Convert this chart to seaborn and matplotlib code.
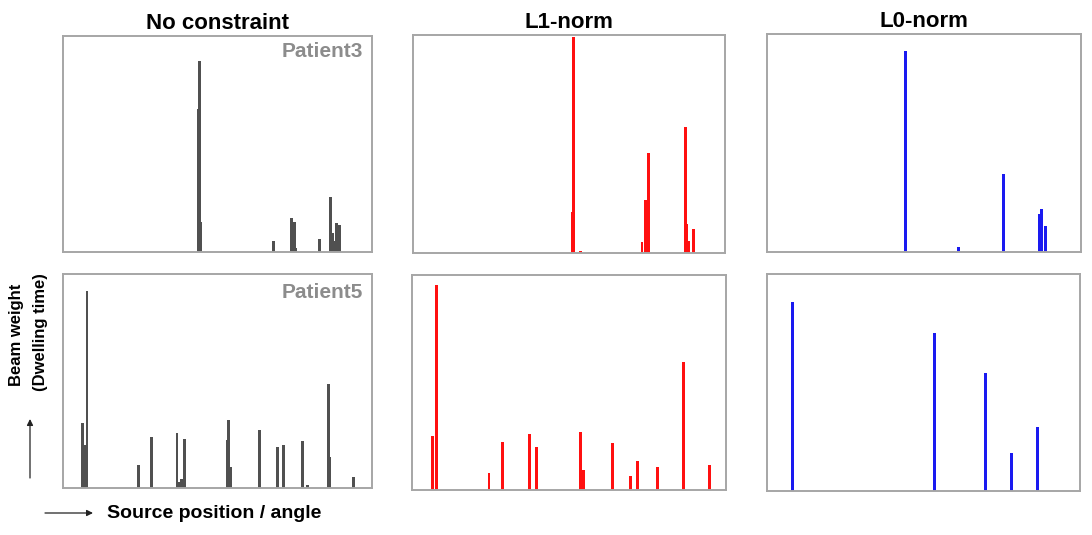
import numpy as np
import pandas as pd
import matplotlib
matplotlib.use("Agg")
import matplotlib.pyplot as plt
import seaborn as sns

# ---------------- data (source position in % of range, beam weight in % of axis) -------------
col_titles = ["No constraint", "L1-norm", "L0-norm"]
row_labels = ["Patient3", "Patient5"]

p3_none_pos = [43.7, 44.1, 44.6, 68.1, 74.0, 75.0, 75.4, 83.1, 86.5, 87.1, 87.7, 88.4, 89.0, 89.6]
p3_none_val = [66.0, 88.6, 14.0, 5.0, 15.6, 13.7, 2.0, 5.9, 25.6, 8.7, 5.0, 13.6, 12.5, 12.5]

p3_l1_pos = [51.2, 51.5, 53.6, 73.4, 74.6, 75.5, 87.3, 87.7, 88.4, 90.0]
p3_l1_val = [19.0, 99.0, 1.0, 5.0, 24.3, 45.7, 58.0, 13.3, 5.6, 10.9]

p3_l0_pos = [44.2, 61.1, 75.2, 86.7, 87.4, 88.6]
p3_l0_val = [92.3, 2.4, 35.8, 17.3, 19.7, 12.1]

p5_none_pos = [6.4, 7.3, 7.8, 24.5, 28.7, 36.9, 37.5, 38.3, 39.4, 53.2, 53.5, 54.3,
               63.5, 69.3, 71.4, 77.6, 79.2, 86.0, 86.3, 93.9]
p5_none_val = [30.2, 20.0, 92.2, 10.7, 24.0, 25.6, 3.0, 4.0, 22.8, 22.4, 31.8, 10.0,
               27.1, 19.3, 20.0, 22.1, 1.4, 48.5, 14.6, 5.0]

p5_l1_pos = [6.5, 7.9, 24.5, 28.8, 37.3, 39.7, 53.7, 54.7, 63.9, 69.6, 71.9, 78.1, 86.4, 94.7]
p5_l1_val = [25.3, 95.3, 7.8, 22.5, 26.0, 19.8, 26.8, 9.3, 21.7, 6.5, 13.6, 10.9, 59.7, 11.6]

p5_l0_pos = [8.2, 53.6, 69.7, 78.2, 86.5]
p5_l0_val = [87.2, 73.0, 54.2, 17.7, 29.6]

series = [
    [(p3_none_pos, p3_none_val), (p3_l1_pos, p3_l1_val), (p3_l0_pos, p3_l0_val)],
    [(p5_none_pos, p5_none_val), (p5_l1_pos, p5_l1_val), (p5_l0_pos, p5_l0_val)],
]
colors = ["#505050", "#ff1010", "#1a1af0"]

# ---------------- figure ----------------
sns.set_theme(style="white")
plt.rcParams["font.family"] = ["Liberation Sans", "DejaVu Sans"]
plt.rcParams["text.color"] = "black"
plt.rcParams["axes.titlecolor"] = "black"

W, H = 1092, 535
fig = plt.figure(figsize=(W / 100, H / 100), dpi=100)

# axes boxes in pixels: left, top, right, bottom
boxes = [
    [(63, 36, 372, 252), (413, 35, 725, 253), (767, 34, 1081, 252)],
    [(63, 274, 372, 488), (412, 275, 726, 490), (767, 274, 1080, 491)],
]

bar_w = 0.9  # in x units
for r in range(2):
    for c in range(3):
        l, t, rr, b = boxes[r][c]
        ax = fig.add_axes([l / W, 1 - b / H, (rr - l) / W, (b - t) / H])
        pos, val = series[r][c]
        df = pd.DataFrame({"pos": pos, "val": val})
        min_gap = np.min(np.diff(np.unique(df["pos"])))
        sns.barplot(data=df, x="pos", y="val", native_scale=True, orient="x",
                    color=colors[c], saturation=1, errorbar=None,
                    width=bar_w / min_gap, linewidth=0, ax=ax)
        ax.set_xlim(0, 100)
        ax.set_ylim(0, 100)
        ax.set_xticks([])
        ax.set_yticks([])
        ax.set_xlabel("")
        ax.set_ylabel("")
        for s in ax.spines.values():
            s.set_color("#a6a6a6")
            s.set_linewidth(1.4)
        if r == 0:
            ax.set_title(col_titles[c], fontsize=16, fontweight="bold", pad=5,
                         color="black")
        if c == 0:
            ypos = 0.926 if r == 0 else 0.913
            ax.text(0.971, ypos, row_labels[r], transform=ax.transAxes,
                    ha="right", va="center", fontsize=15, fontweight="bold",
                    color="#8c8c8c")

# axis descriptions with arrows
fig.text(17 / W, 1 - 335 / H, "Beam weight", rotation=90, ha="center", va="center",
         fontsize=12, fontweight="bold")
fig.text(40 / W, 1 - 332 / H, "(Dwelling time)", rotation=90, ha="center", va="center",
         fontsize=12, fontweight="bold")
fig.text(107 / W, 1 - 513 / H, "Source position / angle", ha="left", va="center",
         fontsize=14, fontweight="bold")

arrow = dict(arrowstyle="-|>", lw=0.9, color="#222222", mutation_scale=9,
             shrinkA=0, shrinkB=0)
fig.add_artist(matplotlib.patches.FancyArrowPatch(
    (30 / W, 1 - 478 / H), (30 / W, 1 - 419 / H), transform=fig.transFigure, **arrow))
fig.add_artist(matplotlib.patches.FancyArrowPatch(
    (45 / W, 1 - 513 / H), (93 / W, 1 - 513 / H), transform=fig.transFigure, **arrow))

fig.savefig("out.png", dpi=100)
